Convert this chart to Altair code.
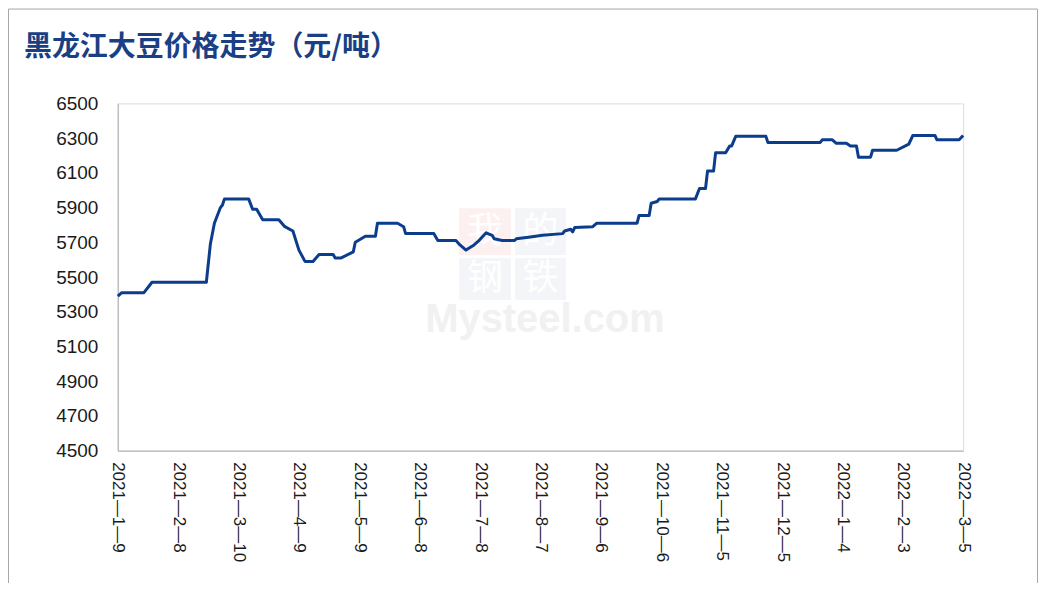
import datetime as dt
import altair as alt
import pandas as pd

# days since 2021-01-09 and soybean price (yuan/ton)
day_offsets = [0, 2, 13, 17, 44, 46, 48, 51, 52, 53, 65, 67, 69, 72, 80, 83, 87, 90, 93, 97,
               100, 107, 108, 111, 117, 118, 123, 128, 129, 139, 142, 143, 157, 159, 168, 170,
               173, 177, 179, 183, 186, 187, 191, 197, 198, 205, 211, 221, 222, 225, 226, 227,
               236, 238, 258, 259, 264, 265, 268, 269, 287, 289, 292, 293, 296, 297, 302, 304,
               305, 307, 322, 323, 349, 350, 355, 357, 362, 364, 367, 368, 374, 375, 387, 393,
               395, 406, 407, 418, 420]
prices = [5390, 5410, 5410, 5470, 5470, 5690, 5810, 5900, 5915, 5950, 5950, 5890, 5890, 5830,
          5830, 5790, 5765, 5655, 5590, 5590, 5630, 5630, 5610, 5610, 5645, 5700, 5735, 5735,
          5810, 5810, 5790, 5750, 5750, 5710, 5710, 5685, 5655, 5685, 5705, 5755, 5740, 5720,
          5710, 5710, 5720, 5730, 5740, 5750, 5765, 5775, 5760, 5785, 5790, 5810, 5810, 5855,
          5855, 5925, 5935, 5950, 5950, 6010, 6010, 6110, 6110, 6215, 6215, 6255, 6255, 6310,
          6310, 6275, 6275, 6290, 6290, 6270, 6270, 6255, 6255, 6190, 6190, 6230, 6230, 6265,
          6315, 6315, 6290, 6290, 6315]
tick_dates = ["2021/01/09", "2021/02/08", "2021/03/10", "2021/04/09", "2021/05/09",
              "2021/06/08", "2021/07/08", "2021/08/07", "2021/09/06", "2021/10/06",
              "2021/11/05", "2021/12/05", "2022/01/04", "2022/02/03", "2022/03/05"]
y_ticks = [4500, 4700, 4900, 5100, 5300, 5500, 5700, 5900, 6100, 6300, 6500]
title_text = "黑龙江大豆价格走势（元/吨）"
wm_chars = ["我", "的", "钢", "铁"]
wm_text = "Mysteel.com"

base = dt.date(2021, 1, 9)
df = pd.DataFrame({
    "date": [(base + dt.timedelta(days=d)).strftime("%Y/%m/%d") for d in day_offsets],
    "price": prices,
})

def to_dt(s):
    y, m, d = (int(v) for v in s.split("/"))
    return alt.DateTime(year=y, month=m, date=d)

W, H = 847, 348
PAD = {"left": 110, "top": 95, "right": 76, "bottom": 132}

line = alt.Chart(df).mark_line(color="#0b3d8c", strokeWidth=3, strokeJoin="round").encode(
    x=alt.X("date:T",
            scale=alt.Scale(domain=[to_dt(tick_dates[0]), to_dt(tick_dates[-1])]),
            axis=alt.Axis(values=[to_dt(s) for s in tick_dates], format="%Y—%-m—%-d",
                          labelAngle=90, labelAlign="left", labelBaseline="middle",
                          labelPadding=11, ticks=False, grid=False, title=None,
                          domainColor="#c0c0c0", domainWidth=1.5,
                          labelFont="Liberation Sans", labelFontSize=17,
                          labelColor="#1a1a1a", labelOverlap=False)),
    y=alt.Y("price:Q",
            scale=alt.Scale(domain=[4500, 6500], nice=False, zero=False),
            axis=alt.Axis(values=y_ticks, format="d", ticks=False, grid=False, title=None,
                          domainColor="#c0c0c0", domainWidth=1.5, labelPadding=20,
                          labelFont="Liberation Sans", labelFontSize=19,
                          labelColor="#1a1a1a")),
)

border = alt.Chart(alt.Data(values=[{}])).mark_rect(
    fill=None, stroke="#a6a6a6", strokeWidth=1
).encode(
    x=alt.value(-109.5), x2=alt.value(W + PAD["right"] - 1.5),
    y=alt.value(-94.5), y2=alt.value(H + 200),
)

title = alt.Chart(alt.Data(values=[{"t": title_text}])).mark_text(
    align="left", baseline="middle", font="Noto Sans CJK SC", fontSize=28,
    fontWeight="bold", color="#1a3f85"
).encode(x=alt.value(-94), y=alt.value(-55), text="t:N")

# faint watermark
one = alt.Data(values=[{}])
boxes = []
box_pos = [(342, 394, 105, 152, "#fdf0f0"), (398, 449, 105, 152, "#f4f5f9"),
           (342, 394, 155, 197, "#f4f5f9"), (398, 449, 155, 197, "#f4f5f9")]
for ch, (x1, x2, y1, y2, fc) in zip(wm_chars, box_pos):
    boxes.append(alt.Chart(one).mark_rect(fill=fc).encode(
        x=alt.value(x1), x2=alt.value(x2), y=alt.value(y1), y2=alt.value(y2)))
    boxes.append(alt.Chart(alt.Data(values=[{"c": ch}])).mark_text(
        font="Noto Sans CJK SC", fontSize=36, color="#ffffff", align="center",
        baseline="middle").encode(x=alt.value((x1 + x2) / 2), y=alt.value((y1 + y2) / 2),
                                  text="c:N"))
mys = alt.Chart(alt.Data(values=[{"t": wm_text}])).mark_text(
    font="Liberation Sans", fontSize=40, fontWeight="bold", color="#f1f1f1",
    align="center", baseline="alphabetic"
).encode(x=alt.value(428), y=alt.value(229), text="t:N")

chart = alt.layer(border, title, *boxes, mys, line).properties(
    width=W, height=H,
    autosize=alt.AutoSizeParams(type="none"),
    padding=PAD,
).configure_view(stroke=None).configure(background="white")

chart.save("out.html", embed_options={"renderer": "svg", "actions": False})
